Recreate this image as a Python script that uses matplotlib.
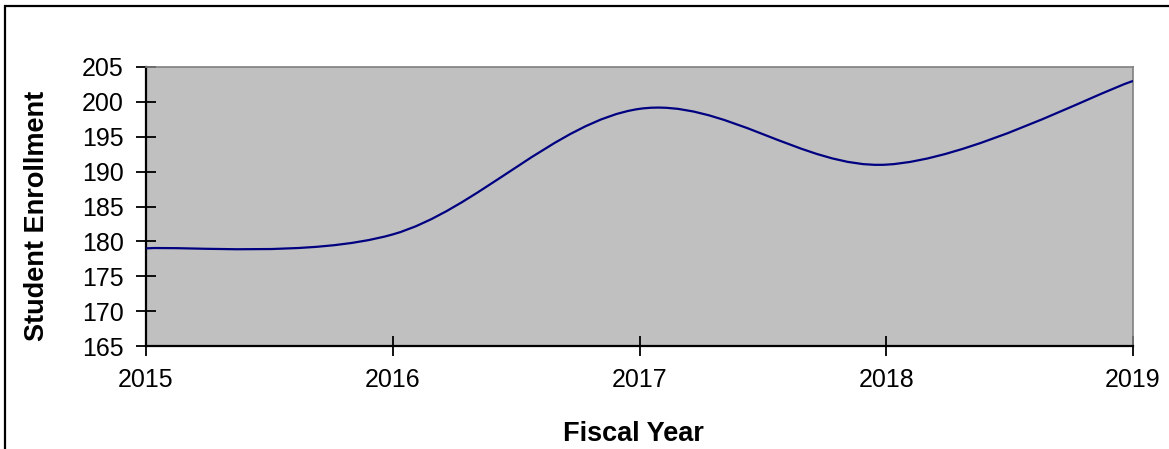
import numpy as np
import matplotlib.pyplot as plt
from matplotlib.path import Path
from matplotlib.patches import PathPatch, Rectangle

plt.rcParams['font.family'] = ['Liberation Sans', 'DejaVu Sans']

years = [2015, 2016, 2017, 2018, 2019]
enrollment = [179, 181, 199, 191, 203]


def smooth_path(x, y):
    # Excel-style smoothed line: cubic Bezier segments (Catmull-Rom control points)
    pts = np.column_stack([x, y]).astype(float)
    ext = np.vstack([pts[0], pts, pts[-1]])
    verts = [pts[0]]
    codes = [Path.MOVETO]
    for i in range(len(pts) - 1):
        p0, p1, p2, p3 = ext[i], ext[i + 1], ext[i + 2], ext[i + 3]
        verts += [p1 + (p2 - p0) / 6.0, p2 - (p3 - p1) / 6.0, p2]
        codes += [Path.CURVE4] * 3
    return Path(verts, codes)


fig = plt.figure(figsize=(11.69, 4.49), dpi=100)
ax = fig.add_axes([146/1169, 1 - 346/449, 987/1169, 279/449])
ax.set_facecolor('#C0C0C0')

ax.add_patch(PathPatch(smooth_path(years, enrollment), facecolor='none',
                       edgecolor='#000080', lw=1.6, zorder=3))

ax.set_xlim(2015, 2019)
ax.set_ylim(165, 205)
ax.set_xticks(years)
ax.set_yticks(np.arange(165, 206, 5))

for s in ['left', 'bottom']:
    ax.spines[s].set_color('black')
    ax.spines[s].set_linewidth(1.6)
for s in ['top', 'right']:
    ax.spines[s].set_color('#808080')
    ax.spines[s].set_linewidth(1.2)

ax.tick_params(axis='both', direction='inout', length=14, width=1.3,
               labelsize=18, pad=9, color='black')

ax.set_xlabel('Fiscal Year', fontsize=19.5, fontweight='bold')
ax.set_ylabel('Student Enrollment', fontsize=19.5, fontweight='bold')
ax.xaxis.set_label_coords(0.494, -0.269)
ax.yaxis.set_label_coords(-0.0973, 0.466)

# outer chart border (clipped at right and bottom)
fig.patches.append(Rectangle((5/1169, -0.1), 1.2, 1 - 6/449 + 0.1,
                             transform=fig.transFigure, fill=False,
                             edgecolor='black', lw=1.6))

plt.savefig('out.png', dpi=100)
